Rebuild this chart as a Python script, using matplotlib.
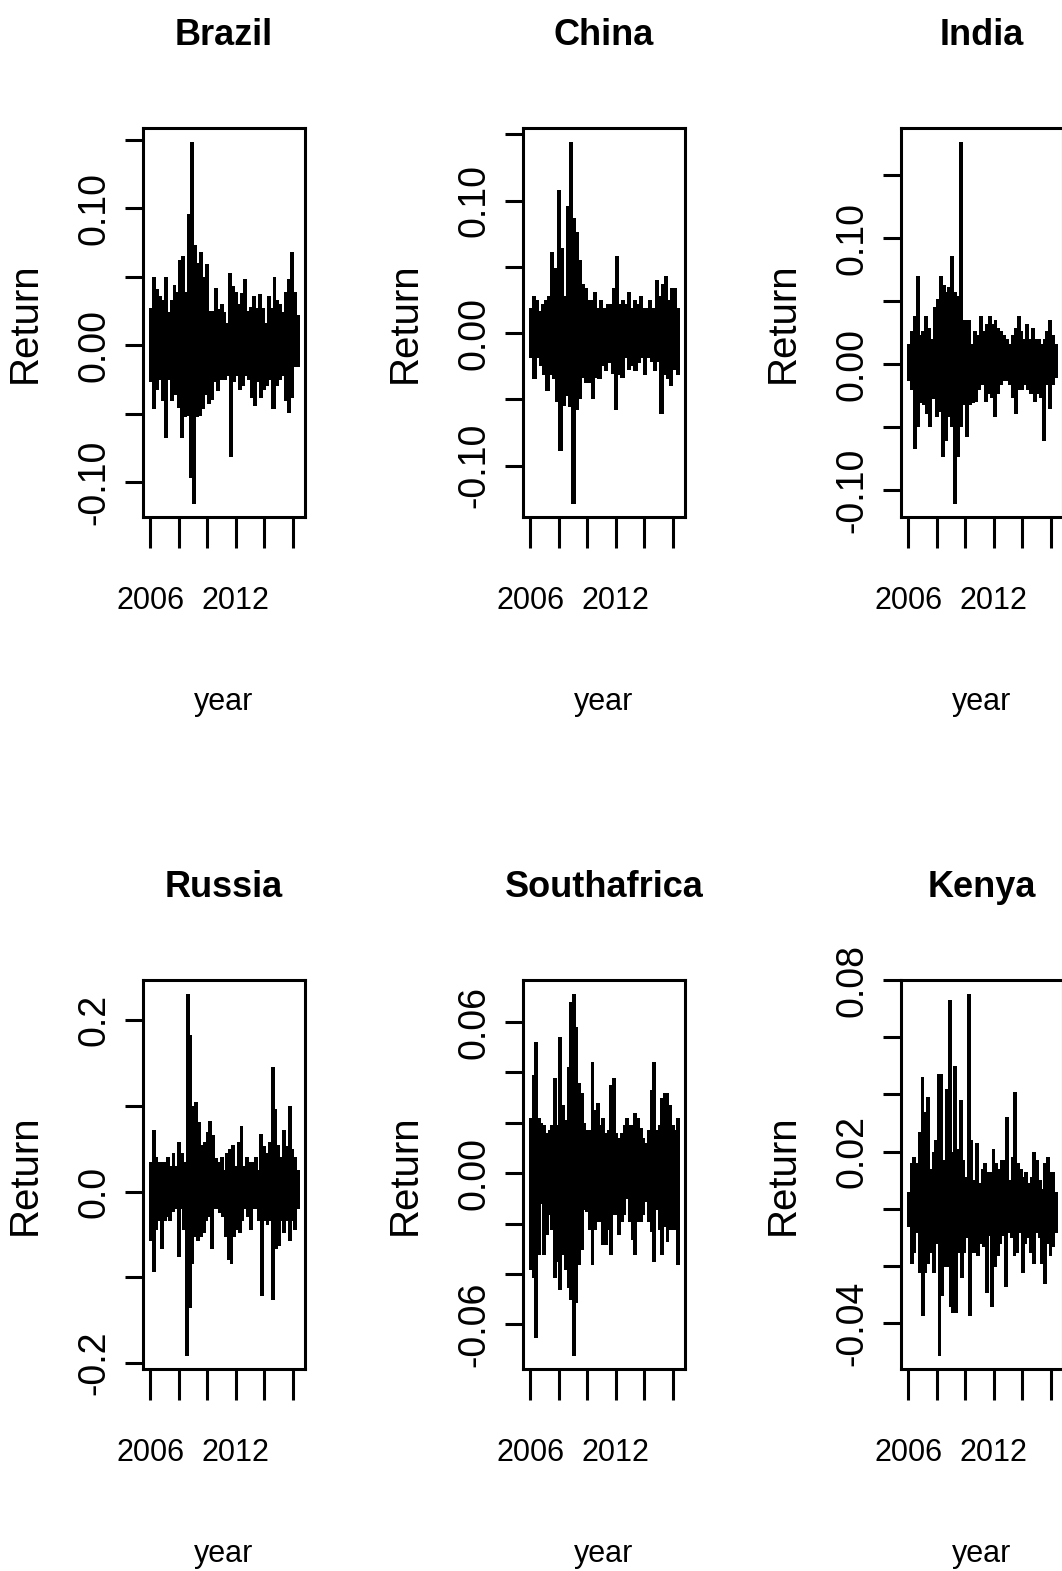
import numpy as np
import matplotlib.pyplot as plt

plt.rcParams['axes.unicode_minus'] = False

# daily return envelopes, upper and lower reach per period, Jan 2006 - mid 2016
start_year, end_year = 2005.9, 2016.45

brazil_hi = [0.027, 0.050, 0.041, 0.036, 0.033, 0.050, 0.024, 0.033, 0.044, 0.039,
             0.062, 0.065, 0.039, 0.096, 0.148, 0.073, 0.060, 0.068, 0.050, 0.059,
             0.025, 0.025, 0.042, 0.026, 0.030, 0.024, 0.016, 0.053, 0.043, 0.039,
             0.030, 0.038, 0.048, 0.025, 0.028, 0.036, 0.027, 0.037, 0.027, 0.016,
             0.036, 0.027, 0.050, 0.033, 0.030, 0.024, 0.039, 0.048, 0.068, 0.039, 0.022]
brazil_lo = [-0.026, -0.046, -0.032, -0.025, -0.040, -0.067, -0.025, -0.040, -0.036, -0.045,
             -0.067, -0.052, -0.051, -0.096, -0.115, -0.052, -0.051, -0.046, -0.036, -0.042,
             -0.039, -0.026, -0.033, -0.025, -0.025, -0.022, -0.081, -0.026, -0.022, -0.032,
             -0.029, -0.022, -0.025, -0.038, -0.044, -0.026, -0.038, -0.032, -0.029, -0.025,
             -0.046, -0.029, -0.025, -0.022, -0.040, -0.049, -0.038, -0.015, -0.015]

china_hi = [0.019, 0.028, 0.025, 0.017, 0.022, 0.025, 0.028, 0.061, 0.049, 0.108,
            0.064, 0.028, 0.096, 0.144, 0.087, 0.076, 0.055, 0.037, 0.034, 0.025,
            0.025, 0.031, 0.019, 0.025, 0.019, 0.022, 0.022, 0.034, 0.058, 0.022,
            0.025, 0.022, 0.031, 0.019, 0.025, 0.022, 0.028, 0.019, 0.019, 0.025,
            0.019, 0.040, 0.028, 0.037, 0.043, 0.025, 0.034, 0.034, 0.019]
china_lo = [-0.018, -0.034, -0.018, -0.024, -0.031, -0.043, -0.031, -0.034, -0.051, -0.088,
            -0.054, -0.047, -0.055, -0.128, -0.057, -0.049, -0.033, -0.037, -0.037, -0.049,
            -0.033, -0.034, -0.024, -0.028, -0.022, -0.030, -0.057, -0.031, -0.033, -0.018,
            -0.027, -0.024, -0.028, -0.022, -0.018, -0.031, -0.018, -0.021, -0.028, -0.021,
            -0.060, -0.031, -0.034, -0.039, -0.027, -0.031]

india_hi = [0.016, 0.026, 0.038, 0.070, 0.023, 0.026, 0.038, 0.029, 0.020, 0.045,
            0.052, 0.070, 0.063, 0.057, 0.061, 0.086, 0.057, 0.054, 0.176, 0.035,
            0.035, 0.035, 0.016, 0.026, 0.023, 0.038, 0.026, 0.032, 0.038, 0.032,
            0.035, 0.029, 0.026, 0.023, 0.020, 0.016, 0.023, 0.029, 0.038, 0.026,
            0.020, 0.032, 0.020, 0.029, 0.020, 0.020, 0.016, 0.020, 0.026, 0.035,
            0.023, 0.016]
india_lo = [-0.013, -0.020, -0.067, -0.049, -0.030, -0.032, -0.039, -0.049, -0.027, -0.041,
            -0.037, -0.073, -0.060, -0.041, -0.049, -0.110, -0.073, -0.049, -0.032, -0.057,
            -0.032, -0.030, -0.029, -0.020, -0.016, -0.029, -0.023, -0.026, -0.041, -0.023,
            -0.016, -0.013, -0.013, -0.016, -0.026, -0.039, -0.020, -0.020, -0.016, -0.020,
            -0.023, -0.029, -0.023, -0.026, -0.060, -0.016, -0.035, -0.016, -0.010]

russia_hi = [0.035, 0.072, 0.040, 0.035, 0.035, 0.035, 0.040, 0.030, 0.045, 0.030,
             0.058, 0.045, 0.035, 0.230, 0.183, 0.100, 0.105, 0.081, 0.054, 0.058,
             0.070, 0.082, 0.066, 0.039, 0.035, 0.040, 0.025, 0.045, 0.050, 0.054,
             0.030, 0.058, 0.076, 0.030, 0.040, 0.035, 0.035, 0.040, 0.025, 0.067,
             0.053, 0.045, 0.058, 0.145, 0.096, 0.054, 0.040, 0.072, 0.053, 0.100,
             0.050, 0.040, 0.025]
russia_lo = [-0.056, -0.093, -0.043, -0.033, -0.066, -0.033, -0.028, -0.033, -0.023, -0.019,
             -0.075, -0.019, -0.043, -0.190, -0.135, -0.083, -0.052, -0.056, -0.052, -0.047,
             -0.033, -0.028, -0.066, -0.019, -0.019, -0.024, -0.028, -0.052, -0.079, -0.083,
             -0.052, -0.043, -0.047, -0.033, -0.019, -0.028, -0.043, -0.019, -0.019, -0.033,
             -0.121, -0.033, -0.038, -0.033, -0.125, -0.066, -0.062, -0.033, -0.047, -0.033,
             -0.056, -0.033, -0.043, -0.019]

southafrica_hi = [0.022, 0.039, 0.052, 0.022, 0.020, 0.019, 0.016, 0.017, 0.019, 0.038,
                  0.019, 0.054, 0.027, 0.021, 0.042, 0.068, 0.071, 0.058, 0.036, 0.032,
                  0.020, 0.017, 0.017, 0.044, 0.025, 0.028, 0.019, 0.022, 0.016, 0.017,
                  0.035, 0.038, 0.016, 0.014, 0.016, 0.019, 0.022, 0.019, 0.019, 0.024,
                  0.022, 0.018, 0.014, 0.012, 0.017, 0.033, 0.044, 0.017, 0.019, 0.030,
                  0.032, 0.032, 0.027, 0.019, 0.017, 0.022]
southafrica_lo = [-0.038, -0.041, -0.065, -0.032, -0.012, -0.032, -0.024, -0.016, -0.022, -0.041,
                  -0.035, -0.046, -0.032, -0.038, -0.045, -0.050, -0.072, -0.051, -0.036, -0.030,
                  -0.014, -0.015, -0.022, -0.036, -0.022, -0.019, -0.019, -0.028, -0.028, -0.022,
                  -0.032, -0.016, -0.016, -0.024, -0.019, -0.016, -0.010, -0.019, -0.026, -0.032,
                  -0.019, -0.019, -0.016, -0.011, -0.019, -0.023, -0.035, -0.014, -0.022, -0.032,
                  -0.021, -0.027, -0.022, -0.022, -0.022, -0.036]

kenya_hi = [0.006, 0.016, 0.018, 0.016, 0.027, 0.046, 0.034, 0.039, 0.014, 0.020,
            0.024, 0.047, 0.047, 0.017, 0.042, 0.073, 0.020, 0.050, 0.021, 0.038,
            0.017, 0.011, 0.075, 0.024, 0.010, 0.023, 0.009, 0.014, 0.016, 0.013,
            0.013, 0.021, 0.016, 0.014, 0.017, 0.017, 0.032, 0.010, 0.018, 0.041,
            0.016, 0.014, 0.011, 0.013, 0.009, 0.011, 0.020, 0.017, 0.010, 0.007,
            0.016, 0.018, 0.013, 0.013, 0.006]
kenya_lo = [-0.006, -0.019, -0.015, -0.008, -0.022, -0.037, -0.022, -0.019, -0.015, -0.022,
            -0.012, -0.051, -0.030, -0.020, -0.020, -0.034, -0.036, -0.036, -0.015, -0.024,
            -0.015, -0.010, -0.037, -0.015, -0.015, -0.016, -0.012, -0.013, -0.029, -0.009,
            -0.034, -0.020, -0.016, -0.012, -0.009, -0.027, -0.008, -0.010, -0.016, -0.015,
            -0.008, -0.022, -0.012, -0.010, -0.015, -0.019, -0.008, -0.010, -0.019, -0.026,
            -0.012, -0.016, -0.013, -0.008]

year_ticks = [2006, 2008, 2010, 2012, 2014, 2016]
year_labels = ['2006', '', '', '2012', '', '']

ticks_010 = [-0.10, -0.05, 0.00, 0.05, 0.10, 0.15]
labels_010 = ['-0.10', '', '0.00', '', '0.10', '']
ticks_02 = [-0.2, -0.1, 0.0, 0.1, 0.2]
labels_02 = ['-0.2', '', '0.0', '', '0.2']
ticks_006 = [-0.06, -0.04, -0.02, 0.00, 0.02, 0.04, 0.06]
labels_006 = ['-0.06', '', '', '0.00', '', '', '0.06']
ticks_kenya = [-0.04, -0.02, 0.00, 0.02, 0.04, 0.06, 0.08]
labels_kenya = ['-0.04', '', '', '0.02', '', '', '0.08']

panels = [
    ('Brazil', brazil_hi, brazil_lo, ticks_010, labels_010),
    ('China', china_hi, china_lo, ticks_010, labels_010),
    ('India', india_hi, india_lo, ticks_010, labels_010),
    ('Russia', russia_hi, russia_lo, ticks_02, labels_02),
    ('Southafrica', southafrica_hi, southafrica_lo, ticks_006, labels_006),
    ('Kenya', kenya_hi, kenya_lo, ticks_kenya, labels_kenya),
]

font = ['Liberation Sans', 'DejaVu Sans']

W, H = 1062, 1571
fig = plt.figure(figsize=(W / 100, H / 100), dpi=100)
col_left = [143, 523, 901]
row_top = [128, 980]
box_w, box_h = 162, 389

for i, (name, hi, lo, yt, yl) in enumerate(panels):
    r, c = divmod(i, 3)
    ax = fig.add_axes([col_left[c] / W, 1 - (row_top[r] + box_h) / H, box_w / W, box_h / H])

    edges_hi = np.linspace(start_year, end_year, len(hi) + 1)
    edges_lo = np.linspace(start_year, end_year, len(lo) + 1)
    for vals, edges in ((hi, edges_hi), (lo, edges_lo)):
        ax.stairs(vals, edges, baseline=0, fill=True, facecolor='black',
                  edgecolor='black', lw=0.6, antialiased=False)

    # R style 4% padding around the data range
    xpad = 0.04 * (end_year - start_year)
    ax.set_xlim(start_year - xpad, end_year + xpad)
    ymin, ymax = min(lo), max(hi)
    ypad = 0.04 * (ymax - ymin)
    ax.set_ylim(ymin - ypad, ymax + ypad)

    ax.set_xticks(year_ticks, labels=year_labels, fontsize=22, family=font)
    ax.set_yticks(yt, labels=yl, fontsize=27, family=font, rotation=90)
    for lab in ax.get_yticklabels():
        lab.set_va('center')
    ax.tick_params(axis='x', length=22, width=2.2, pad=28, color='black')
    ax.tick_params(axis='y', length=13, width=2.2, pad=9, color='black')
    for sp in ax.spines.values():
        sp.set_linewidth(2.2)
        sp.set_color('black')

    ax.set_title(name, fontsize=26, fontweight='bold', family=font,
                 y=1 + (128 - 36) / box_h, va='center', pad=0)
    ax.set_xlabel('year', fontsize=22, family=font)
    ax.xaxis.set_label_coords(0.5, -(702 - 517) / box_h)
    ax.xaxis.label.set_va('center')
    ax.set_ylabel('Return', fontsize=29, family=font)
    ax.yaxis.set_label_coords(-(143 - 25) / box_w, 0.5)
    ax.yaxis.label.set_va('center')

fig.savefig('out.png', dpi=100, facecolor='white')
